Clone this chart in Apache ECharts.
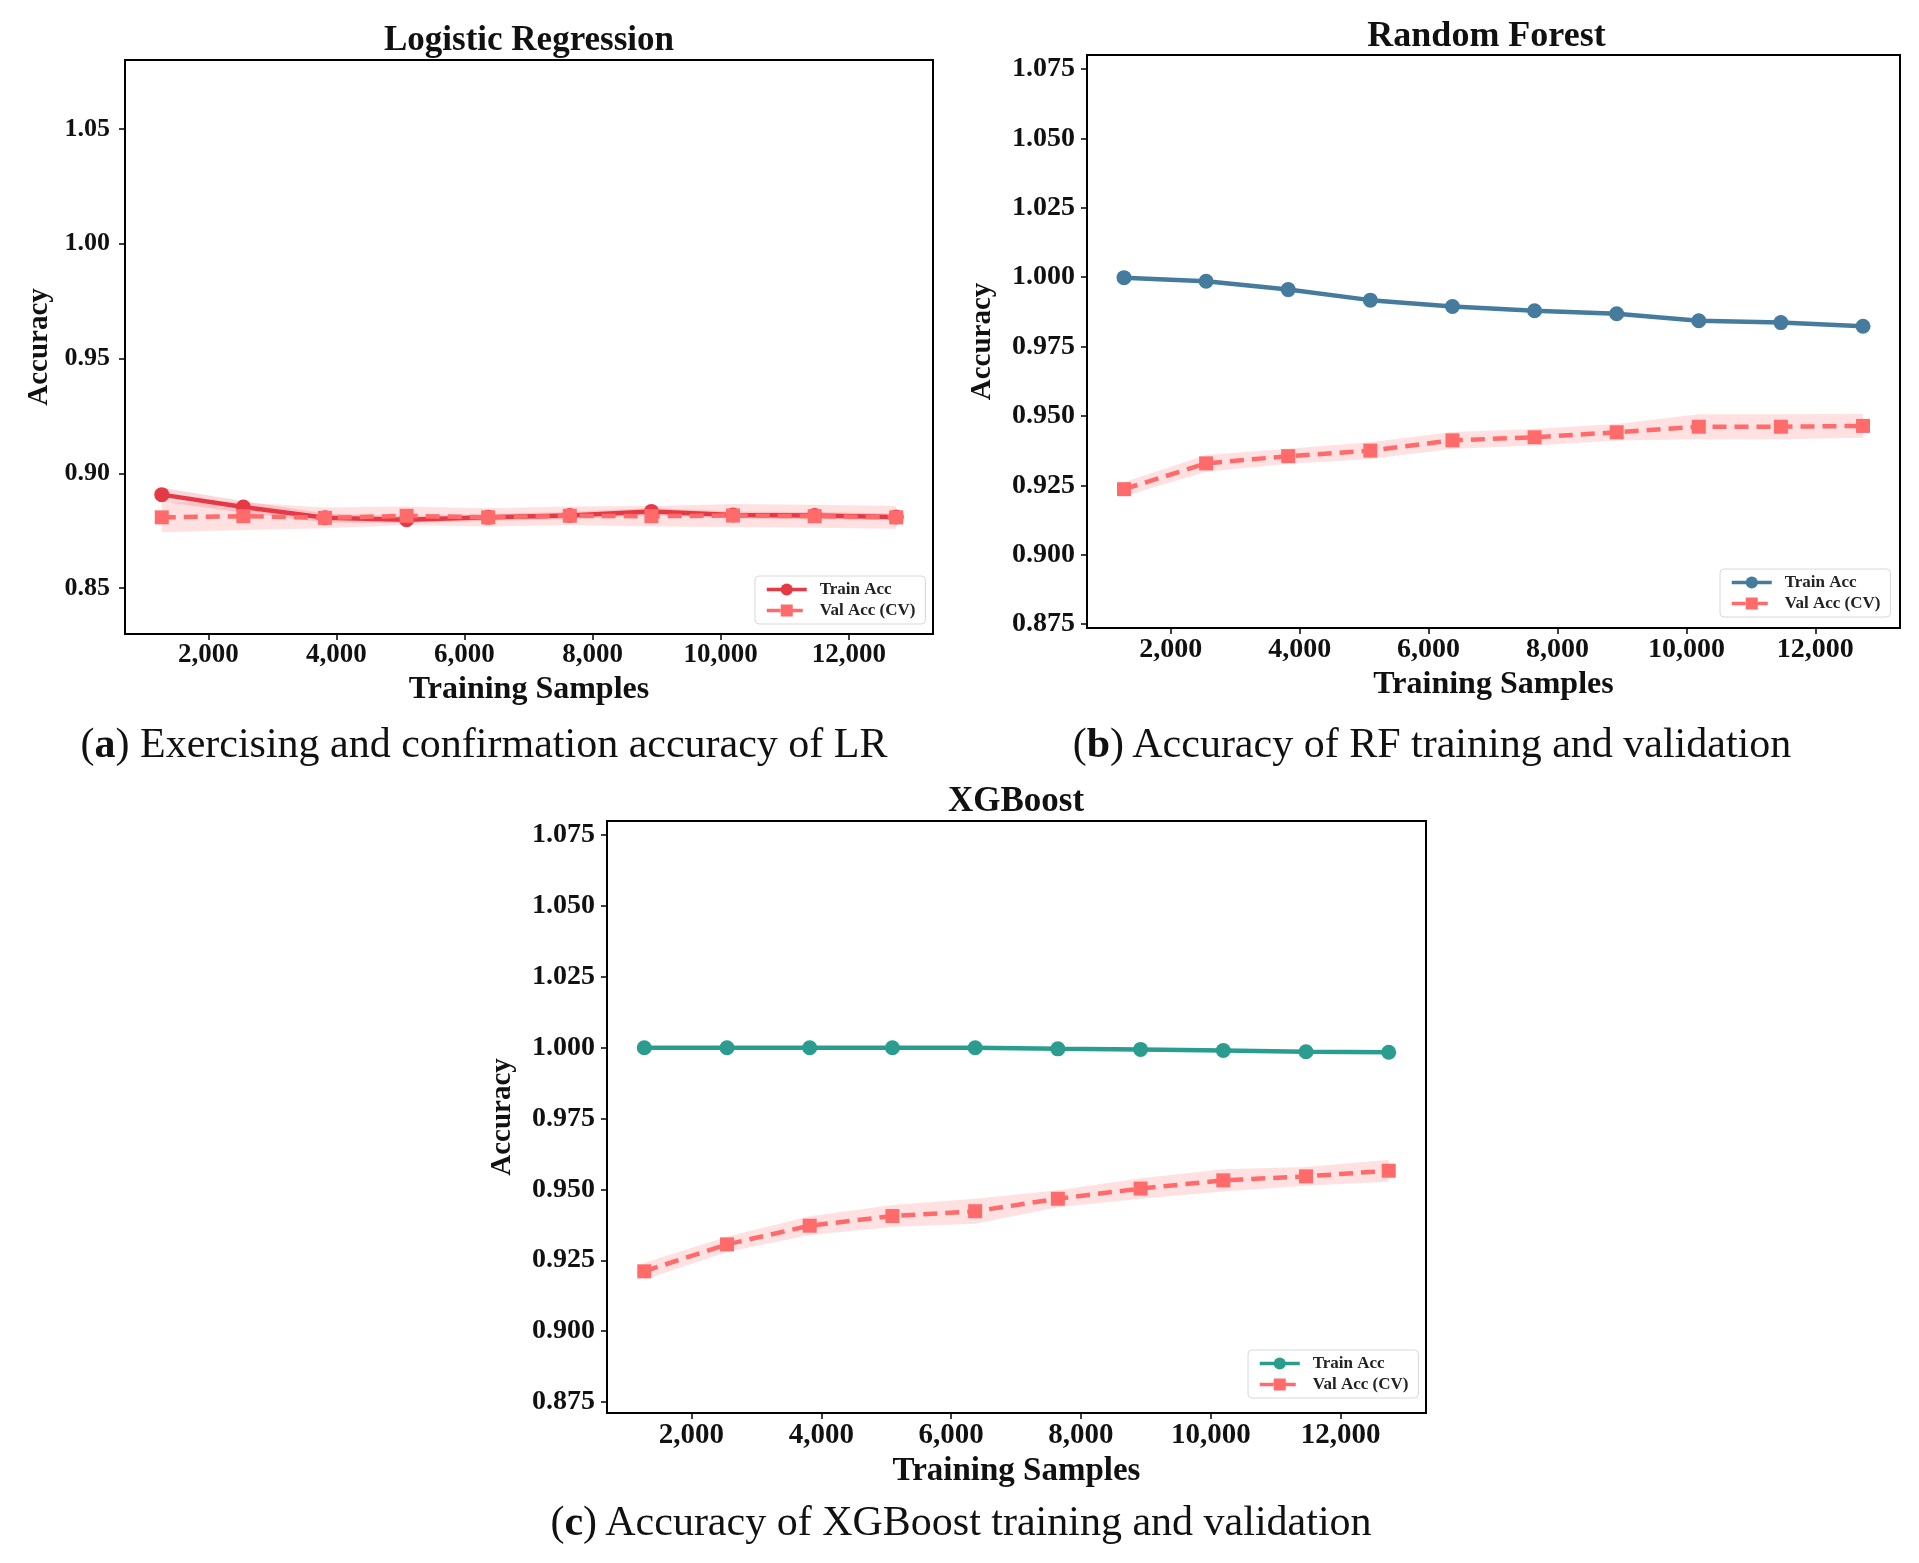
<!DOCTYPE html>
<html>
<head>
<meta charset="utf-8">
<title>Learning curves: LR / RF / XGBoost</title>
<script src="https://cdn.jsdelivr.net/npm/echarts@6/dist/echarts.min.js"></script>
<style>
body{margin:0;background:#fff;width:1919px;height:1563px;position:relative;overflow:hidden;}
.panel{position:absolute;}
.caption{position:absolute;font-family:'Liberation Serif','Times New Roman',serif;font-size:42px;color:#111;white-space:nowrap;transform:translate(-50%,-50%);}
</style>
</head>
<body>
<div id="chartLR" class="panel" style="left:0;top:0;width:960px;height:720px"></div>
<div id="chartRF" class="panel" style="left:960px;top:0;width:959px;height:720px"></div>
<div id="chartXGB" class="panel" style="left:480px;top:770px;width:960px;height:730px"></div>
<div class="caption" style="left:484px;top:743px">(<b>a</b>) Exercising and confirmation accuracy of LR</div>
<div class="caption" style="left:1432px;top:743px">(<b>b</b>) Accuracy of RF training and validation</div>
<div class="caption" style="left:961px;top:1521px">(<b>c</b>) Accuracy of XGBoost training and validation</div>
<script>
// training set sizes (x) and tick labels
var trainSizes = [1274, 2548, 3822, 5096, 6370, 7644, 8918, 10192, 11466, 12740];
var xTicks = [2000, 4000, 6000, 8000, 10000, 12000];
var lrTicks = [0.85, 0.90, 0.95, 1.00, 1.05];
var treeTicks = [0.875, 0.900, 0.925, 0.950, 0.975, 1.000, 1.025, 1.050, 1.075];

// Logistic Regression
var lrTrain    = [0.8907, 0.8853, 0.8806, 0.8798, 0.8808, 0.8816, 0.8834, 0.8818, 0.8816, 0.8810];
var lrTrainStd = [0.0030, 0.0025, 0.0020, 0.0015, 0.0015, 0.0015, 0.0015, 0.0015, 0.0015, 0.0015];
var lrVal      = [0.8808, 0.8813, 0.8806, 0.8815, 0.8808, 0.8815, 0.8813, 0.8816, 0.8813, 0.8808];
var lrValStd   = [0.0065, 0.0060, 0.0045, 0.0040, 0.0040, 0.0040, 0.0045, 0.0050, 0.0050, 0.0050];

// Random Forest
var rfTrain    = [0.9998, 0.9985, 0.9955, 0.9917, 0.9894, 0.9879, 0.9868, 0.9843, 0.9836, 0.9823];
var rfTrainStd = [0.0002, 0.0004, 0.0005, 0.0005, 0.0005, 0.0005, 0.0005, 0.0005, 0.0005, 0.0005];
var rfVal      = [0.9236, 0.9329, 0.9355, 0.9375, 0.9412, 0.9423, 0.9441, 0.9461, 0.9461, 0.9464];
var rfValStd   = [0.0025, 0.0030, 0.0027, 0.0030, 0.0030, 0.0030, 0.0030, 0.0045, 0.0045, 0.0043];

// XGBoost
var xgbTrain    = [1.0000, 1.0000, 1.0000, 1.0000, 1.0000, 0.9996, 0.9994, 0.9990, 0.9986, 0.9984];
var xgbTrainStd = [0.0000, 0.0000, 0.0000, 0.0000, 0.0001, 0.0001, 0.0002, 0.0002, 0.0002, 0.0002];
var xgbVal      = [0.9211, 0.9306, 0.9372, 0.9406, 0.9423, 0.9467, 0.9503, 0.9532, 0.9546, 0.9566];
var xgbValStd   = [0.0030, 0.0027, 0.0033, 0.0039, 0.0044, 0.0030, 0.0036, 0.0039, 0.0033, 0.0039];

var FONT = "'Liberation Serif', 'Times New Roman', serif";
var VAL_COLOR = '#ff6b6b';

function pairs(ys) {
  return trainSizes.map(function (x, i) { return [x, ys[i]]; });
}

// mean +/- std shading, polygon built through the grid's coord system
function band(mean, std, color) {
  return {
    type: 'custom', silent: true, z: 1,
    data: [[trainSizes[0], mean[0]]],
    renderItem: function (params, api) {
      var upper = trainSizes.map(function (x, i) { return api.coord([x, mean[i] + std[i]]); });
      var lower = trainSizes.map(function (x, i) { return api.coord([x, mean[i] - std[i]]); }).reverse();
      return { type: 'polygon', shape: { points: upper.concat(lower) }, style: { fill: color, opacity: 0.2 } };
    }
  };
}

function drawPanel(id, cfg) {
  var chart = echarts.init(document.getElementById(id));
  var g = cfg.grid;
  chart.setOption({
    animation: false,
    graphic: [{
      type: 'text', x: g.left + g.width / 2, y: cfg.titleY,
      style: { text: cfg.title, font: 'bold ' + cfg.titleSize + 'px ' + FONT, fill: '#111', textAlign: 'center', textVerticalAlign: 'middle' }
    }],
    grid: { left: g.left, top: g.top, width: g.width, height: g.height, show: true, borderColor: '#000', borderWidth: 2 },
    legend: {
      data: ['Train Acc', 'Val Acc (CV)'], orient: 'vertical', left: cfg.legend[0], top: cfg.legend[1],
      itemWidth: 40, itemHeight: 15, itemGap: 4, padding: [5, 10, 5, 10],
      lineStyle: { width: 3.5 },
      borderColor: '#d8d8d8', borderWidth: 1, borderRadius: 4, backgroundColor: 'rgba(255,255,255,0.85)',
      textStyle: { fontFamily: FONT, fontWeight: 'bold', fontSize: 17, color: '#222', padding: [0, 0, 0, 8] }
    },
    xAxis: {
      type: 'value', min: 700, max: 13314,
      name: 'Training Samples', nameLocation: 'middle', nameGap: cfg.xNameGap,
      nameTextStyle: { fontFamily: FONT, fontWeight: 'bold', fontSize: cfg.nameSize, color: '#111' },
      axisLine: { show: true, onZero: false, lineStyle: { color: '#000', width: 2 } },
      axisTick: { show: true, length: 6, customValues: xTicks, lineStyle: { color: '#000', width: 1.5 } },
      axisLabel: { customValues: xTicks, margin: 8, fontFamily: FONT, fontWeight: 'bold', fontSize: cfg.xLabelSize, color: '#111',
        formatter: function (v) { return v.toLocaleString('en-US'); } },
      splitLine: { show: false }
    },
    yAxis: {
      type: 'value', min: cfg.yMin, max: 1.08,
      name: 'Accuracy', nameLocation: 'middle', nameGap: cfg.yNameGap,
      nameTextStyle: { fontFamily: FONT, fontWeight: 'bold', fontSize: 29, color: '#111' },
      axisLine: { show: true, lineStyle: { color: '#000', width: 2 } },
      axisTick: { show: true, length: 6, customValues: cfg.yTicks, lineStyle: { color: '#000', width: 1.5 } },
      axisLabel: { customValues: cfg.yTicks, margin: cfg.yLabelMargin, fontFamily: FONT, fontWeight: 'bold', fontSize: cfg.yLabelSize, color: '#111',
        formatter: function (v) { return v.toFixed(cfg.decimals); } },
      splitLine: { show: false }
    },
    series: [
      band(cfg.train, cfg.trainStd, cfg.color),
      band(cfg.val, cfg.valStd, VAL_COLOR),
      {
        name: 'Train Acc', type: 'line', data: pairs(cfg.train), z: 3,
        symbol: 'circle', symbolSize: 15,
        lineStyle: { color: cfg.color, width: 4.5 }, itemStyle: { color: cfg.color }
      }, {
        name: 'Val Acc (CV)', type: 'line', data: pairs(cfg.val), z: 4,
        symbol: 'rect', symbolSize: 14,
        lineStyle: { color: VAL_COLOR, width: 4.5, type: [14, 8] }, itemStyle: { color: VAL_COLOR }
      }
    ]
  });
}

drawPanel('chartLR', {
  title: 'Logistic Regression', titleY: 41, titleSize: 35,
  grid: { left: 125, top: 60, width: 808, height: 574 },
  legend: [755, 576], xNameGap: 36, yNameGap: 70, yLabelMargin: 15,
  xLabelSize: 27, yLabelSize: 26, nameSize: 32,
  yMin: 0.830, yTicks: lrTicks, decimals: 2,
  color: '#e63946', train: lrTrain, trainStd: lrTrainStd, val: lrVal, valStd: lrValStd
});

drawPanel('chartRF', {
  title: 'Random Forest', titleY: 37, titleSize: 36,
  grid: { left: 113, top: 55, width: 827, height: 573 },
  legend: [760, 569], xNameGap: 36, yNameGap: 90, yLabelMargin: 12,
  xLabelSize: 28, yLabelSize: 28, nameSize: 32,
  yMin: 0.8736, yTicks: treeTicks, decimals: 3,
  color: '#457b9d', train: rfTrain, trainStd: rfTrainStd, val: rfVal, valStd: rfValStd
});

drawPanel('chartXGB', {
  title: 'XGBoost', titleY: 32, titleSize: 35,
  grid: { left: 126, top: 51, width: 820, height: 592 },
  legend: [768, 580], xNameGap: 32, yNameGap: 90, yLabelMargin: 12,
  xLabelSize: 29, yLabelSize: 28, nameSize: 33,
  yMin: 0.8711, yTicks: treeTicks, decimals: 3,
  color: '#2a9d8f', train: xgbTrain, trainStd: xgbTrainStd, val: xgbVal, valStd: xgbValStd
});
</script>
</body>
</html>
